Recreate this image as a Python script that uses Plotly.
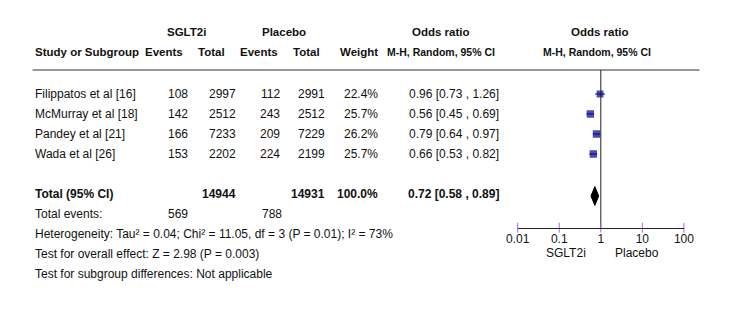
import plotly.graph_objects as go
import math

# ---------------- data ----------------
studies = ["Filippatos et al [16]", "McMurray et al [18]", "Pandey et al [21]", "Wada et al [26]"]
sglt2_events = [108, 142, 166, 153]
sglt2_total = [2997, 2512, 7233, 2202]
placebo_events = [112, 243, 209, 224]
placebo_total = [2991, 2512, 7229, 2199]
weights = [22.4, 25.7, 26.2, 25.7]
odds = [0.96, 0.56, 0.79, 0.66]
ci_low = [0.73, 0.45, 0.64, 0.53]
ci_high = [1.26, 0.69, 0.97, 0.82]

total_sglt2 = 14944
total_placebo = 14931
total_weight = 100.0
pooled_or = 0.72
pooled_low = 0.58
pooled_high = 0.89
events_sglt2_sum = 569
events_placebo_sum = 788

footer_lines = [
    "Heterogeneity: Tau² = 0.04; Chi² = 11.05, df = 3 (P = 0.01); I² = 73%",
    "Test for overall effect: Z = 2.98 (P = 0.003)",
    "Test for subgroup differences: Not applicable",
]
tick_vals = [0.01, 0.1, 1, 10, 100]
tick_text = ["0.01", "0.1", "1", "10", "100"]

# ---------------- layout constants ----------------
W, H = 750, 316
OFF = 8.0      # page offset of the figure inside the browser window
ROW0 = 94.0    # screen pixel y of first study row
STEP = 20.0    # pixels per row
AXIS_PX = 227.7
FONT = "Liberation Sans, Arial, sans-serif"
FS = 12
FS_HEAD = 11.5
FS_SUB = 10.5
BLUE = "#00008f"
TXT = "#111111"

def px2row(p):
    """screen pixel y -> row units"""
    return (p - ROW0) / STEP

def xp(p):
    """screen pixel x -> paper fraction"""
    return (p - OFF) / W

fig = go.Figure()

study_rows = list(range(len(studies)))
total_row = 5
events_row = 6
axis_row = px2row(AXIS_PX)

# CI + squares
max_w = max(weights)
sizes = [7.4 * math.sqrt(w / max_w) for w in weights]
fig.add_trace(go.Scatter(
    x=odds, y=study_rows, mode="markers",
    marker=dict(symbol="square", size=sizes, color=BLUE, line=dict(width=0)),
    error_x=dict(type="data", symmetric=False,
                 array=[h - o for h, o in zip(ci_high, odds)],
                 arrayminus=[o - l for o, l in zip(odds, ci_low)],
                 color=BLUE, thickness=1, width=0),
    hoverinfo="skip", showlegend=False))

# vertical line of no effect
fig.add_trace(go.Scatter(x=[1, 1], y=[px2row(70), axis_row], mode="lines",
                         line=dict(color="#222", width=1), hoverinfo="skip",
                         showlegend=False))

# pooled diamond
dh = 0.47
yc = total_row + 0.1
fig.add_trace(go.Scatter(
    x=[pooled_low, pooled_or, pooled_high, pooled_or, pooled_low],
    y=[yc, yc - dh, yc, yc + dh, yc],
    mode="lines", fill="toself", fillcolor="black", line=dict(color="black", width=1),
    hoverinfo="skip", showlegend=False))

# crossing tick marks on the axis line
fig.add_trace(go.Scatter(x=tick_vals, y=[axis_row] * len(tick_vals), mode="markers",
                         marker=dict(symbol="line-ns-open", size=7,
                                     line=dict(color="#222", width=1)),
                         hoverinfo="skip", showlegend=False, cliponaxis=False))

ann = []
def text(x_px, row, s, anchor="left", bold=False, size=FS):
    ann.append(dict(x=xp(x_px), xref="paper", y=row, yref="y", text=(f"<b>{s}</b>" if bold else s),
                    showarrow=False, xanchor=anchor, yanchor="middle",
                    font=dict(family=FONT, size=size, color=TXT)))

# headers
h1 = px2row(32)
h2 = px2row(52)
text(180, h1, "SGLT2i", "center", True, FS_HEAD)
text(280, h1, "Placebo", "center", True, FS_HEAD)
text(442, h1, "Odds ratio", "center", True, FS_HEAD)
text(606, h1, "Odds ratio", "center", True, FS_HEAD)
text(21, h2, "Study or Subgroup", "left", True, FS_HEAD)
text(178, h2, "Events", "right", True, FS_HEAD)
text(221, h2, "Total", "right", True, FS_HEAD)
text(276, h2, "Events", "right", True, FS_HEAD)
text(319, h2, "Total", "right", True, FS_HEAD)
text(379, h2, "Weight", "right", True, FS_HEAD)
text(442, h2, "M-H, Random, 95% CI", "center", True, FS_SUB)
text(602, h2, "M-H, Random, 95% CI", "center", True, FS_SUB)

# study rows
for i, r in enumerate(study_rows):
    text(21, r, studies[i])
    text(183, r, str(sglt2_events[i]), "right")
    text(233, r, str(sglt2_total[i]), "right")
    text(278, r, str(placebo_events[i]), "right")
    text(324, r, str(placebo_total[i]), "right")
    text(379, r, f"{weights[i]:.1f}%", "right")
    text(504, r, f"{odds[i]:.2f} [{ci_low[i]:.2f} , {ci_high[i]:.2f}]", "right")

# totals
text(21, total_row, "Total (95% CI)", "left", True)
text(233, total_row, str(total_sglt2), "right", True)
text(324, total_row, str(total_placebo), "right", True)
text(379, total_row, f"{total_weight:.1f}%", "right", True)
text(504, total_row, f"{pooled_or:.2f} [{pooled_low:.2f} , {pooled_high:.2f}]", "right", True)
text(21, events_row, "Total events:")
text(183, events_row, str(events_sglt2_sum), "right")
text(280, events_row, str(events_placebo_sum), "right")
for k, line in enumerate(footer_lines):
    text(21, events_row + 1 + k, line)

# favours labels
text(571, px2row(253), "SGLT2i", "center")
text(644, px2row(253), "Placebo", "center")

axis_pos = (H - (AXIS_PX - OFF)) / H
dom = [xp(520.7), xp(692)]
fig.update_layout(
    width=W, height=H, margin=dict(l=0, r=0, t=0, b=0),
    paper_bgcolor="white", plot_bgcolor="white",
    font=dict(family=FONT, size=FS, color=TXT),
    annotations=ann,
    shapes=[dict(type="line", xref="paper", yref="y", x0=xp(21), x1=xp(708),
                 y0=px2row(70), y1=px2row(70), line=dict(color="#333", width=1.2))],
    xaxis=dict(type="log", range=[-2, 2], domain=dom, anchor="free", position=axis_pos,
               showline=True, linecolor="#222", linewidth=1, showgrid=False, zeroline=False,
               ticks="", tickvals=tick_vals, ticktext=tick_text,
               tickfont=dict(family=FONT, size=FS, color=TXT)),
    yaxis=dict(range=[px2row(H + OFF), px2row(OFF)], domain=[0, 1], visible=False, showgrid=False),
)

fig.write_html("out.html")
